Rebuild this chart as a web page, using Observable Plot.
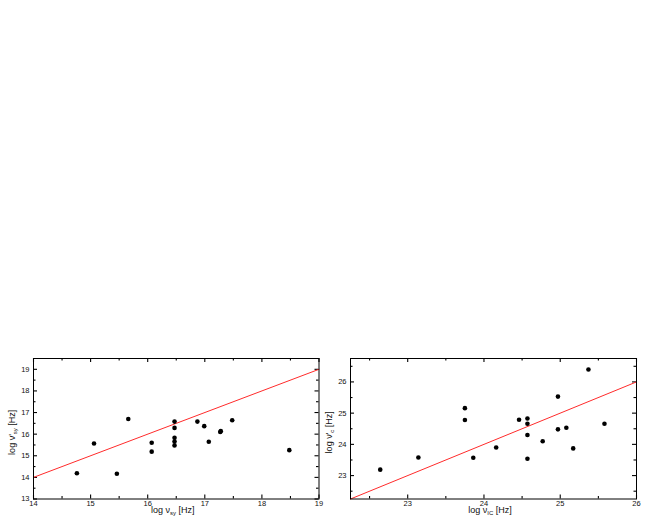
<!DOCTYPE html>
<html><head><meta charset="utf-8">
<script src="https://cdn.jsdelivr.net/npm/d3@7"></script>
<script src="https://cdn.jsdelivr.net/npm/@observablehq/plot@0.6"></script>
<style>
body{margin:0;background:#fff;width:654px;height:518px;position:relative;overflow:hidden;font-family:"Liberation Sans",Arial,sans-serif}
.panel{position:absolute;top:340px}
.panel svg{overflow:visible}
</style></head><body>
<div id="left" class="panel" style="left:0"></div>
<div id="right" class="panel" style="left:327px"></div>
<script>
// Left panel: log nu_sy vs log nu'_sy
const syX = [14.76, 15.06, 15.46, 15.66, 16.07, 16.07, 16.47, 16.47, 16.47, 16.47, 16.47, 16.87, 16.99, 17.07, 17.27, 17.28, 17.48, 18.48];
const syY = [14.19, 15.57, 14.17, 16.70, 15.60, 15.19, 16.58, 16.29, 15.83, 15.66, 15.48, 16.58, 16.37, 15.65, 16.10, 16.14, 16.64, 15.26];
const syDomainX = [14, 19];
const syDomainY = [13, 19.5];
const syTicksX = [14, 15, 16, 17, 18, 19];
const syMinorX = [14.5, 15.5, 16.5, 17.5, 18.5];
const syTicksY = [13, 14, 15, 16, 17, 18, 19];
const syMinorY = [13.5, 14.5, 15.5, 16.5, 17.5, 18.5];
const syLine = [14, 19];

// Right panel: log nu_IC vs log nu'_c
const icX = [22.64, 23.14, 23.75, 23.75, 23.86, 24.16, 24.46, 24.57, 24.57, 24.57, 24.57, 24.77, 24.97, 24.97, 25.08, 25.17, 25.37, 25.58];
const icY = [23.19, 23.58, 25.16, 24.78, 23.57, 23.90, 24.79, 24.83, 24.66, 24.30, 23.54, 24.10, 25.53, 24.48, 24.53, 23.87, 26.40, 24.66];
const icDomainX = [22.25, 26];
const icDomainY = [22.25, 26.75];
const icTicksX = [23, 24, 25, 26];
const icMinorX = [22.5, 23.5, 24.5, 25.5];
const icTicksY = [23, 24, 25, 26];
const icMinorY = [22.5, 23.5, 24.5, 25.5, 26.5];
const icLine = [22.25, 26];

const W = 327, H = 178, MT = 18, MB = 19.5;

function panel(o) {
  const pts = o.xs.map((x, i) => ({x, y: o.ys[i]}));
  const line = o.line.map(v => ({x: v, y: v}));
  const fw = W - o.ml - o.mr, fh = H - MT - MB;
  const marks = [];
  // inward-pointing ticks on all four sides (major 4px, minor 2.5px)
  for (const [t, len] of [[o.xMajor, 4], [o.xMinor, 2.5]]) {
    marks.push(Plot.ruleX(t, {x: d => d, insetTop: fh - len, stroke: "#000", strokeWidth: 1.1}));
    marks.push(Plot.ruleX(t, {x: d => d, insetBottom: fh - len, stroke: "#000", strokeWidth: 1.1}));
  }
  for (const [t, len] of [[o.yMajor, 4], [o.yMinor, 2.5]]) {
    marks.push(Plot.ruleY(t, {y: d => d, insetRight: fw - len, stroke: "#000", strokeWidth: 1.1}));
    marks.push(Plot.ruleY(t, {y: d => d, insetLeft: fw - len, stroke: "#000", strokeWidth: 1.1}));
  }
  marks.push(Plot.axisX(o.xMajor, {anchor: "bottom", tickSize: 0, tickPadding: 2, label: null}));
  marks.push(Plot.axisY(o.yMajor, {anchor: "left", tickSize: 0, tickPadding: 4, label: null}));
  marks.push(Plot.line(line, {x: "x", y: "y", stroke: "#ff2b2b", strokeWidth: 1}));
  marks.push(Plot.dot(pts, {x: "x", y: "y", r: 2.3, fill: "black", stroke: "none"}));
  marks.push(Plot.frame({stroke: "black", strokeWidth: 1}));
  const p = Plot.plot({
    width: W, height: H,
    marginLeft: o.ml, marginRight: o.mr, marginTop: MT, marginBottom: MB,
    style: {fontFamily: "Liberation Sans, Arial, sans-serif", fontSize: "7.5px", color: "#111", background: "transparent"},
    x: {domain: o.dx}, y: {domain: o.dy},
    marks
  });
  const svg = d3.select(p);
  const cx = (o.ml + W - o.mr) / 2;
  const cy = (MT + H - MB) / 2 + 4;
  const xl = svg.append("text").attr("x", cx - 3).attr("y", 173).attr("text-anchor", "middle")
    .attr("font-size", 9).attr("fill", "#111");
  xl.append("tspan").text("log ν");
  xl.append("tspan").attr("dy", 2).attr("font-size", 6).text(o.xSub);
  xl.append("tspan").attr("dy", -2).text(" [Hz]");
  const yl = svg.append("text").attr("transform", `translate(${o.ylx},${cy}) rotate(-90)`)
    .attr("text-anchor", "middle").attr("dominant-baseline", "middle").attr("font-size", 9).attr("fill", "#111");
  yl.append("tspan").text("log ν'");
  yl.append("tspan").attr("dy", 2).attr("font-size", 6).text(o.ySub);
  yl.append("tspan").attr("dy", -2).text(" [Hz]");
  return p;
}

document.getElementById("left").append(panel({
  xs: syX, ys: syY, dx: syDomainX, dy: syDomainY,
  xMajor: syTicksX, xMinor: syMinorX, yMajor: syTicksY, yMinor: syMinorY,
  line: syLine, ml: 33, mr: 8.5, xSub: "sy", ySub: "sy", ylx: 12.5
}));
document.getElementById("right").append(panel({
  xs: icX, ys: icY, dx: icDomainX, dy: icDomainY,
  xMajor: icTicksX, xMinor: icMinorX, yMajor: icTicksY, yMinor: icMinorY,
  line: icLine, ml: 23, mr: 18, xSub: "IC", ySub: "c", ylx: 2.5
}));
</script>
</body></html>
